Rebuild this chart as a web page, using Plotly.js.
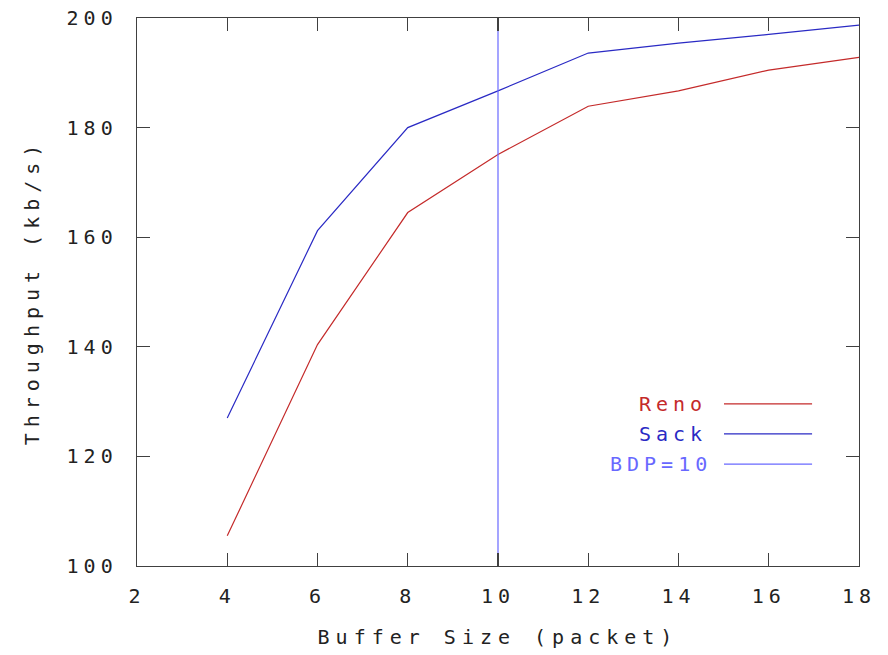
<!DOCTYPE html>
<html>
<head>
<meta charset="utf-8">
<script src="https://cdn.plot.ly/plotly-3.0.1.min.js"></script>
<style>
html, body { margin: 0; padding: 0; background: #fff; }
#chart { width: 888px; height: 655px; }
#chart .xtick text, #chart .ytick text, #chart .annotation-text { letter-spacing: 5px; }
#chart .g-xtitle text, #chart .g-ytitle text { letter-spacing: 6px; }
</style>
</head>
<body>
<div id="chart"></div>
<script>
var bufferSize = [4, 6, 8, 10, 12, 14, 16, 18];
var renoThroughput = [105.5, 140.4, 164.5, 175.1, 183.9, 186.7, 190.5, 192.8];
var sackThroughput = [127.0, 161.2, 180.0, 186.7, 193.6, 195.4, 197.0, 198.7];
var bdpX = [10, 10];
var bdpY = [100, 200];
var seriesNames = ['Reno', 'Sack', 'BDP=10'];
var xTicks = [2, 4, 6, 8, 10, 12, 14, 16, 18];
var yTicks = [100, 120, 140, 160, 180, 200];

var colors = ['#c42a2a', '#2a2ac4', '#6868ff'];
var FONT = 'DejaVu Sans Mono, monospace';
var FS = 20;

var traces = [
  {x: bufferSize, y: renoThroughput, name: seriesNames[0], mode: 'lines', line: {color: colors[0], width: 1.2}},
  {x: bufferSize, y: sackThroughput, name: seriesNames[1], mode: 'lines', line: {color: colors[1], width: 1.2}},
  {x: bdpX, y: bdpY, name: seriesNames[2], mode: 'lines', line: {color: colors[2], width: 1.2}}
];

var legY = [0.296, 0.241, 0.186];
var annotations = [];
var shapes = [];
for (var i = 0; i < 3; i++) {
  annotations.push({
    xref: 'paper', yref: 'paper', x: 0.779, y: legY[i], xanchor: 'right', yanchor: 'middle',
    text: seriesNames[i], showarrow: false, font: {family: FONT, size: FS, color: colors[i]}
  });
  shapes.push({
    type: 'line', xref: 'paper', yref: 'paper', x0: 0.813, x1: 0.935, y0: legY[i], y1: legY[i],
    line: {color: colors[i], width: 1.2}
  });
}

var axisCommon = {
  showgrid: false, zeroline: false, showline: true, linecolor: '#404040', linewidth: 1.3,
  mirror: 'ticks', ticks: 'inside', ticklen: 13, tickcolor: '#404040', tickwidth: 1.3,
  tickfont: {family: FONT, size: FS, color: '#222'}
};

var layout = {
  width: 888, height: 655,
  margin: {l: 137, r: 29, t: 18, b: 89},
  paper_bgcolor: '#fff', plot_bgcolor: '#fff',
  showlegend: false,
  xaxis: Object.assign({}, axisCommon, {
    range: [2, 18], tickvals: xTicks, ticktext: xTicks.map(String),
    ticklabelstandoff: 12,
    title: {text: 'Buffer Size (packet)', font: {family: FONT, size: FS, color: '#222'}, standoff: 22}
  }),
  yaxis: Object.assign({}, axisCommon, {
    range: [100, 200], tickvals: yTicks, ticktext: yTicks.map(String),
    ticklabelstandoff: 14,
    title: {text: 'Throughput (kb/s)', font: {family: FONT, size: FS, color: '#222'}, standoff: 36}
  }),
  annotations: annotations,
  shapes: shapes
};

Plotly.newPlot('chart', traces, layout, {displayModeBar: false, staticPlot: true});
</script>
</body>
</html>
